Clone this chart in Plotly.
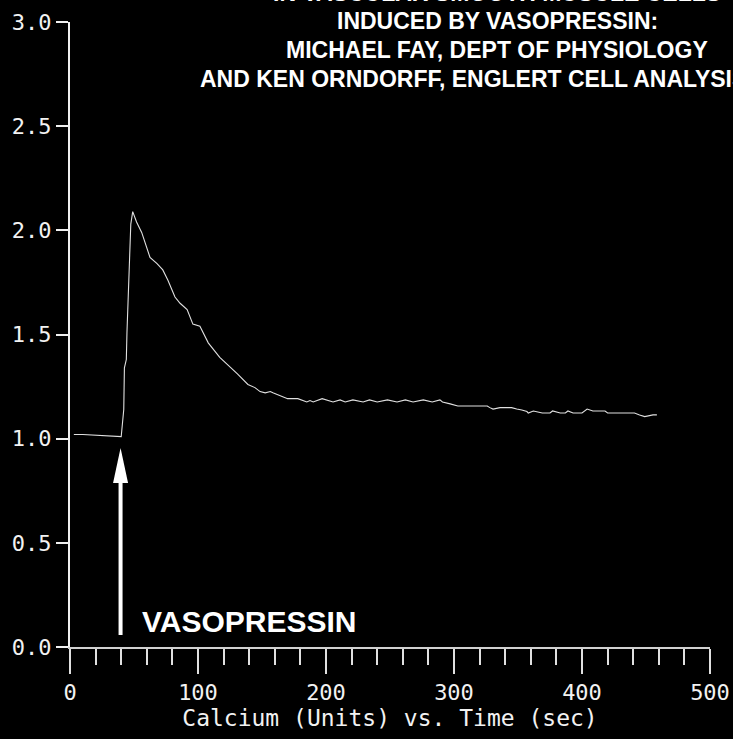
import plotly.graph_objects as go

# Calcium signal of a single cell after vasopressin was added
time_s = [
    3, 10, 40, 42, 42.5, 44, 44.5, 46, 47.5, 49,
    52, 56, 60, 62.5, 68, 72.5, 76.5, 82, 86, 91.5,
    96, 101.5, 108, 117, 131, 139, 144.5, 148.5, 152.5, 156.5,
    158.5, 162.5, 166.5, 170, 178, 181, 185, 187.5, 190, 197,
    201, 205.5, 211, 215, 221, 229, 234, 240, 248, 255.5,
    262, 268, 276, 283, 289, 291, 297, 303, 310, 326,
    328, 330.5, 336, 345, 349, 353, 357, 358, 362, 369,
    375, 377, 383, 387, 389, 393, 400, 402, 404, 408.5,
    418, 420, 441, 445, 449, 455.5, 458.5,
]
calcium = [
    1.02, 1.02, 1.01, 1.14, 1.34, 1.38, 1.51, 1.78, 2.03, 2.09,
    2.04, 1.99, 1.92, 1.87, 1.84, 1.81, 1.76, 1.68, 1.65, 1.62,
    1.55, 1.54, 1.46, 1.39, 1.31, 1.26, 1.245, 1.226, 1.22, 1.226,
    1.22, 1.21, 1.20, 1.192, 1.192, 1.186, 1.176, 1.183, 1.176, 1.192,
    1.183, 1.176, 1.186, 1.176, 1.186, 1.176, 1.186, 1.176, 1.186, 1.176,
    1.186, 1.176, 1.186, 1.176, 1.186, 1.176, 1.167, 1.157, 1.157, 1.157,
    1.149, 1.142, 1.149, 1.149, 1.142, 1.138, 1.130, 1.123, 1.133, 1.123,
    1.123, 1.133, 1.123, 1.123, 1.133, 1.123, 1.123, 1.133, 1.142, 1.133,
    1.133, 1.123, 1.123, 1.114, 1.106, 1.114, 1.114,
]

vasopressin_added = 39.5  # seconds
y_ticks = [0.0, 0.5, 1.0, 1.5, 2.0, 2.5, 3.0]
x_ticks = [0, 100, 200, 300, 400, 500]

title_lines = [
    "IN VASCULAR SMOOTH MUSCLE CELLS",
    "INDUCED BY VASOPRESSIN:",
    "MICHAEL FAY, DEPT OF PHYSIOLOGY",
    "AND KEN ORNDORFF, ENGLERT CELL ANALYSIS",
]

W, H = 733, 739
ML, MR, MT, MB = 70, 23, 22, 92
mono = "DejaVu Sans Mono"
sans = "Liberation Sans, Arial, sans-serif"
fg = "#f2f2f2"

fig = go.Figure()
fig.add_trace(go.Scatter(
    x=time_s, y=calcium, mode="lines",
    line=dict(color="#e0e0e0", width=1.1),
    showlegend=False, hoverinfo="skip",
))

# arrow marking the vasopressin addition
plot_w = W - ML - MR
plot_h = H - MT - MB
x_per_px = 500 / plot_w
y_per_px = 3.0 / plot_h
shaft_bottom = 12 * y_per_px
head_base = shaft_bottom + 152 * y_per_px
head_tip = head_base + 35 * y_per_px
half_head = 7.5 * x_per_px
fig.add_shape(type="line", xref="x", yref="y",
              x0=vasopressin_added, x1=vasopressin_added,
              y0=shaft_bottom, y1=head_base + 2 * y_per_px,
              line=dict(color="white", width=4))
fig.add_shape(type="path", xref="x", yref="y",
              path=(f"M {vasopressin_added - half_head},{head_base} "
                    f"L {vasopressin_added + half_head},{head_base} "
                    f"L {vasopressin_added},{head_tip} Z"),
              fillcolor="white", line=dict(color="white", width=0))

fig.add_annotation(x=vasopressin_added + 15.2, y=26 * y_per_px, xref="x", yref="y",
                   text="VASOPRESSIN", showarrow=False,
                   xanchor="left", yanchor="middle",
                   font=dict(family=sans, size=30, color="white", weight="bold"))

# title block to the right of the plot middle; it runs past the page edges
title_y_px = [-6.5, 20.5, 49.5, 79.5]
title_x_px = [497, 497, 497, 198]
title_anchor = ["center", "center", "center", "left"]
for line, ypx, xpx, anc in zip(title_lines, title_y_px, title_x_px, title_anchor):
    fig.add_annotation(x=(xpx - ML) / plot_w, y=(H - MB - ypx) / plot_h - (H - MB - plot_h - MT) / plot_h,
                       xref="paper", yref="paper", text=line, showarrow=False,
                       xanchor=anc, yanchor="middle",
                       font=dict(family=sans, size=23, color="white", weight="bold"))

fig.update_layout(
    width=W, height=H,
    margin=dict(l=ML, r=MR, t=MT, b=MB, autoexpand=False),
    paper_bgcolor="black", plot_bgcolor="black",
    showlegend=False,
    xaxis=dict(
        range=[0, 500], tickvals=x_ticks, ticktext=[str(v) for v in x_ticks],
        showgrid=False, zeroline=False,
        showline=True, linecolor="#d0d0d0", linewidth=2,
        ticks="outside", ticklen=25, tickwidth=2, tickcolor="#e0e0e0",
        minor=dict(dtick=20, ticks="outside", ticklen=16, tickwidth=2, tickcolor="#e0e0e0"),
        tickfont=dict(family=mono, size=22, color=fg),
        title=dict(text="Calcium (Units) vs. Time (sec)", standoff=2,
                   font=dict(family=mono, size=23, color=fg)),
        fixedrange=True,
    ),
    yaxis=dict(
        range=[0, 3], tickvals=y_ticks, ticktext=[f"{v:.1f}" for v in y_ticks],
        showgrid=False, zeroline=False,
        showline=True, linecolor="#f0f0f0", linewidth=2,
        ticks="outside", ticklen=12, tickwidth=2, tickcolor="#f0f0f0",
        tickfont=dict(family=mono, size=22, color=fg),
        fixedrange=True,
    ),
)

fig.write_html("out.html")
